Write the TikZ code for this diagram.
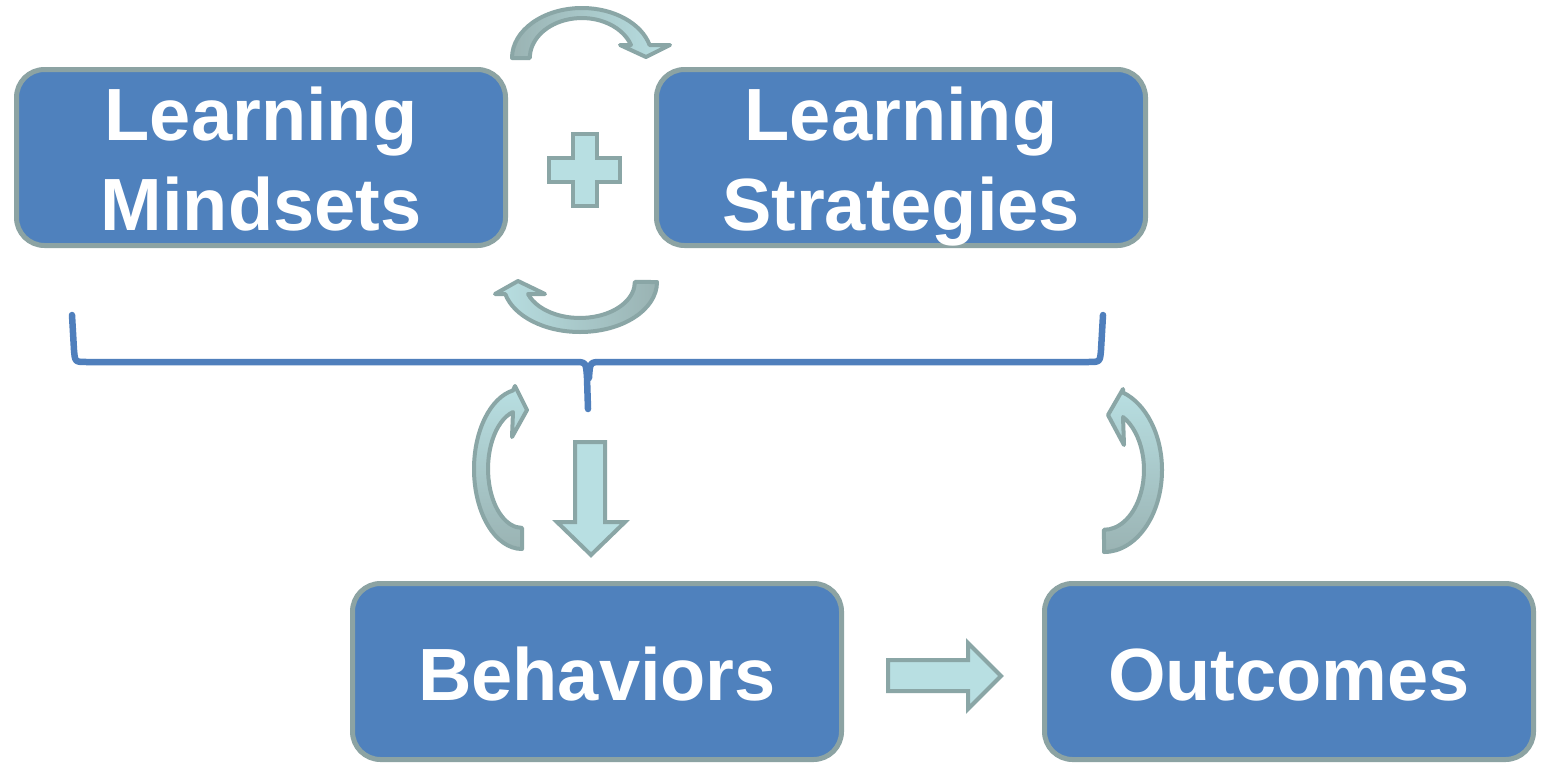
\documentclass[tikz,border=0pt]{standalone}
\usepackage{fontspec}
\setmainfont{Liberation Sans}
\definecolor{boxblue}{HTML}{4F81BD}
\definecolor{boxedge}{HTML}{8CA3A3}
\definecolor{arrowfill}{HTML}{B8DFE2}
\definecolor{arrowedge}{HTML}{8AA6A6}
\definecolor{tailgrey}{HTML}{9AB3B3}
\definecolor{braceblue}{HTML}{4F7FBC}
\begin{document}
\begin{tikzpicture}[x=1pt,y=-1pt,
  box/.style={draw=boxedge, line width=5pt, fill=boxblue, rounded corners=28pt,
    minimum width=489pt, minimum height=176pt, inner sep=0pt, outer sep=0pt, anchor=north west},
  lbl/.style={text=white, font=\fontsize{74}{90}\selectfont\bfseries, anchor=base, inner sep=0pt},
  block/.style={draw=arrowedge, line width=4pt, fill=arrowfill, line join=miter},
  curvearrow/.style={draw=arrowedge, line width=4pt, line join=round},
  brace/.style={draw=braceblue, line width=6.5pt, line cap=round, line join=round}]
\useasboundingbox (0,0) rectangle (1542,763);
\fill[white] (0,0) rectangle (1542,763);

% boxes
\node[box] (mind) at (16.5,69.5) {};
\node[box] (strat) at (656.5,69.5) {};
\node[box] (behav) at (352.5,583.5) {};
\node[box] (outc) at (1044.5,583.5) {};

% labels
\node[lbl] (mind1) at (261,140) {Learning};
\node[lbl] (mind2) at (261,230) {Mindsets};
\node[lbl] (strat1) at (901,140) {Learning};
\node[lbl] (strat2) at (901,230) {Strategies};
\node[lbl] (behav1) at (597,700) {Behaviors};
\node[lbl] (outc1) at (1289,700) {Outcomes};

% plus sign
\draw[block] (573,134) -- (597,134) -- (597,158) -- (620,158) -- (620,182) -- (597,182)
  -- (597,206) -- (573,206) -- (573,182) -- (549,182) -- (549,158) -- (573,158) -- cycle;

% down block arrow
\draw[block] (575,442) -- (605,442) -- (605,522) -- (625,522) -- (591,555) -- (557,522)
  -- (575,522) -- cycle;

% right block arrow
\draw[block] (888,660) -- (968,660) -- (968,643) -- (1001,676) -- (968,709) -- (968,691)
  -- (888,691) -- cycle;

% curved arrow over the top
\draw[curvearrow, left color=tailgrey, right color=arrowfill]
  (512,58) arc[start angle=180, end angle=345, x radius=70, y radius=50]
  -- (670,45) -- (646,57) -- (620,45) -- (631,45)
  arc[start angle=341, end angle=180, x radius=52, y radius=40] -- cycle;

% curved arrow underneath
\draw[curvearrow, left color=arrowfill, right color=tailgrey]
  (657,282) arc[start angle=0, end angle=166, x radius=77, y radius=50]
  -- (495,294) -- (518,281) -- (545,294) -- (528,294)
  arc[start angle=160.5, end angle=0, x radius=55, y radius=36] -- cycle;

% left loop arrow
\draw[curvearrow, top color=arrowfill, bottom color=tailgrey]
  (522,549) arc[start angle=90, end angle=259.2, x radius=48, y radius=80]
  -- (515,386) -- (527,410) -- (512,437) -- (513,412)
  arc[start angle=254.6, end angle=90, x radius=34, y radius=59] -- cycle;

% right loop arrow
\draw[curvearrow, top color=arrowfill, bottom color=tailgrey]
  (1104,552) arc[start angle=90, end angle=-70.9, x radius=58, y radius=82]
  -- (1123,389) -- (1108,415) -- (1124,445) -- (1123,417)
  arc[start angle=-61.6, end angle=90, x radius=40, y radius=60] -- cycle;

% brace under the two upper boxes
\draw[brace] (72,315) -- (74,350) .. controls (75,362) .. (87,362) -- (574,362)
  .. controls (586,362) .. (587,378) -- (588,409);
\draw[brace] (1103,315) -- (1101,350) .. controls (1100,362) .. (1088,362) -- (602,362)
  .. controls (590,362) .. (589,378);
\end{tikzpicture}
\end{document}
